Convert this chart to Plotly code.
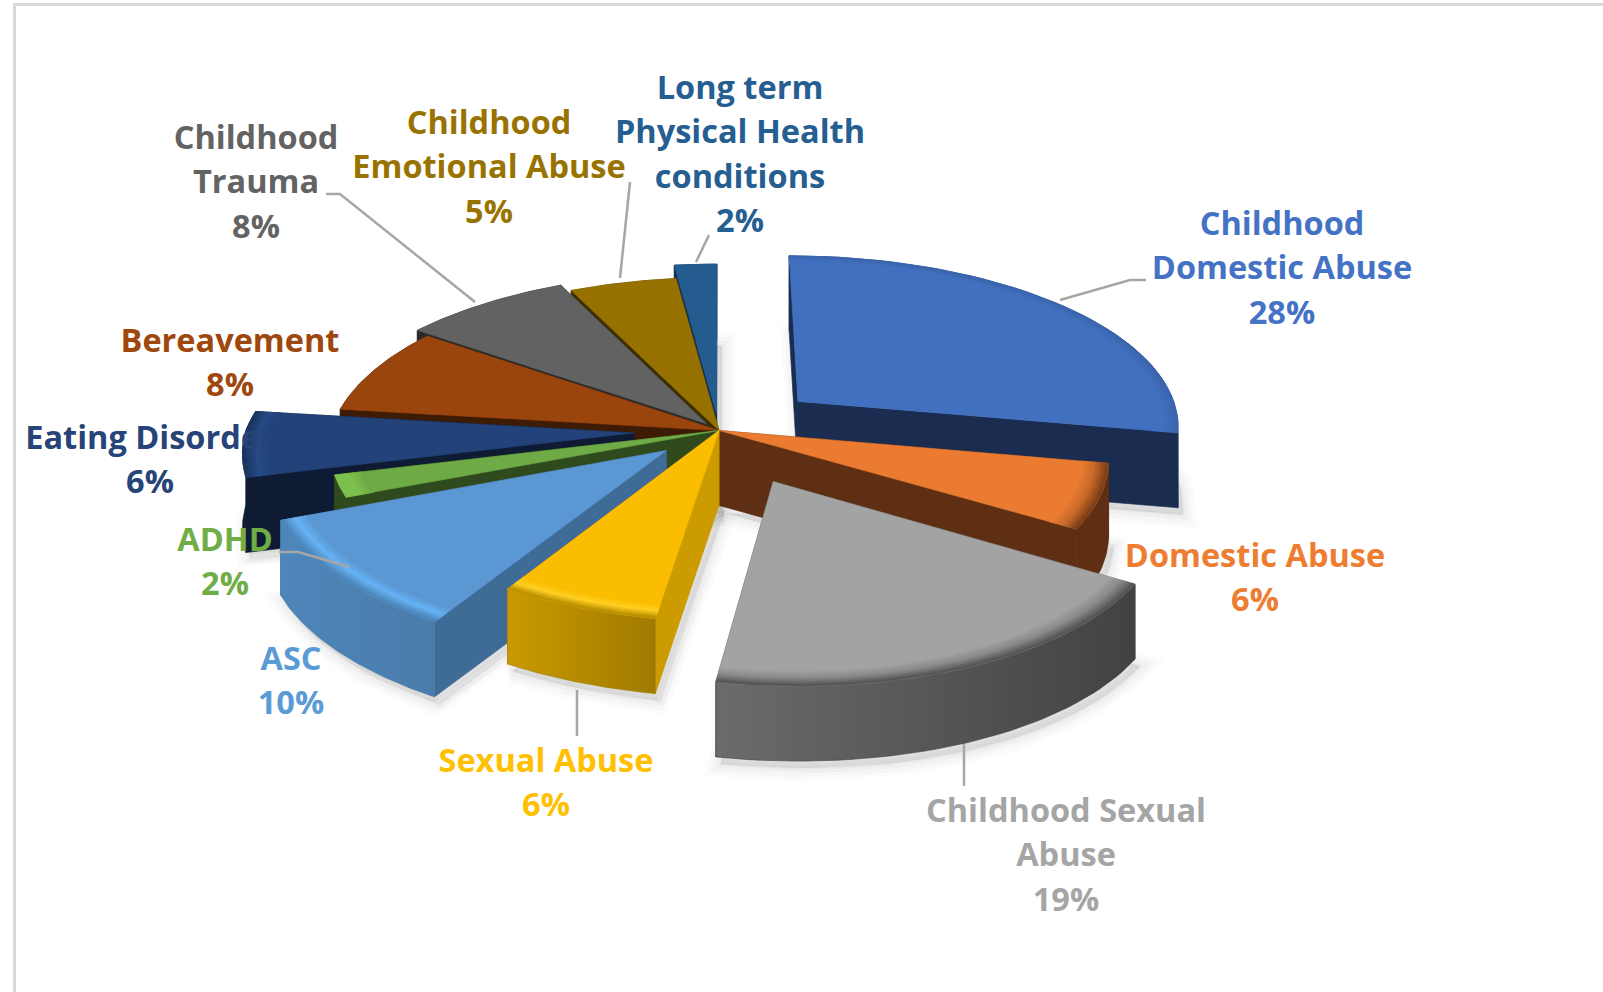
import numpy as np
import plotly.graph_objects as go

# Slices, clockwise from twelve o'clock
categories = ["Childhood Domestic Abuse", "Domestic Abuse", "Childhood Sexual Abuse",
              "Sexual Abuse", "ASC", "ADHD", "Eating Disorder", "Bereavement",
              "Childhood Trauma", "Childhood Emotional Abuse",
              "Long term Physical Health conditions"]
values = [28, 6, 19, 6, 10, 2, 6, 8, 8, 5, 2]
label_lines = [["Childhood", "Domestic Abuse"], ["Domestic Abuse"], ["Childhood Sexual", "Abuse"],
               ["Sexual Abuse"], ["ASC"], ["ADHD"], ["Eating Disorder"], ["Bereavement"],
               ["Childhood", "Trauma"], ["Childhood", "Emotional Abuse"],
               ["Long term", "Physical Health", "conditions"]]

# How far each slice is pulled out of the pie
explode = [0.27, 0, 0.31, 0, 0.18, 0, 0.22, 0, 0.05, 0, 0.10]
radius = [0.99, 0.99, 0.955, 0.97, 1.01, 1, 1, 1, 1, 1, 1]

top_colors = ["#4170BF", "#EA7B31", "#A3A3A3", "#FBBD00", "#5A97D3", "#6EAA45",
              "#234279", "#9A450D", "#626262", "#967100", "#245C90"]
side_colors = ["#1A2C50", "#5E2F13", "#434343", "#CB9B00", "#3F6C96", "#2F4A1C",
               "#0E1B33", "#3E1B05", "#2A2A2A", "#3D2E00", "#12304D"]
# Left and right ends of the gradient along the curved rim
rim_colors = [("#1A2C50", "#1A2C50"), ("#5E2F13", "#5E2F13"), ("#6B6B6B", "#424242"),
              ("#C99A00", "#A07A00"), ("#4D86BA", "#4A7CAA"), ("#2F4A1C", "#2F4A1C"),
              ("#0E1B33", "#0E1B33"), ("#3E1B05", "#3E1B05"), ("#2A2A2A", "#2A2A2A"),
              ("#3D2E00", "#3D2E00"), ("#12304D", "#12304D")]
# Colours of the rounded edge, inside to outside; None leaves the edge flat
bevel_colors = [["#4170BF", "#4170BF", "#3A65AD"], ["#EA7B31", "#C96A2A", "#7E4019"],
                ["#A3A3A3", "#8A8A8A", "#555555"], ["#FBBD00", "#FFD024", "#B98F00"],
                ["#5A97D3", "#66B2F5", "#4D86BA"], ["#6EAA45", "#7CC04E", "#7CC04E"],
                ["#234279", "#264A86", "#1B3560"], None, None, None, None]
text_colors = ["#4472C4", "#ED7D31", "#A5A5A5", "#FFC000", "#5B9BD5", "#70AD47",
               "#264478", "#9E480E", "#636363", "#997300", "#255E91"]

# Where each label block is centred, and its first line's height
label_anchor = [(1282, 227), (1255, 559), (1066, 814), (546, 764), (291, 662), (225, 543),
                (150, 441), (230, 344), (256, 141), (489, 126), (740, 91)]
LINE_STEP = 44.2
FONT = "Open Sans"
FONT_SIZE = 32.5

# Leader lines from a slice to its label
leaders = [[(1060, 300), (1130, 280), (1146, 280)],
           [(475, 302), (340, 194), (326, 194)],
           [(620, 278), (630, 182)],
           [(696, 262), (709, 235)],
           [(350, 567), (298, 552), (279, 552)],
           [(577, 736), (577, 690)],
           [(964, 786), (964, 744)]]

# Tilted-disc projection
CX, CY = 719, 430.5
AX, AY = 388, 173
PERSPECTIVE = 0.13
DEPTH = 75
LEAN = 0.04
BEVEL_WIDTH = 0.07


def project(x, y, drop=0.0):
    w = 1 + PERSPECTIVE * y
    x = x + LEAN * np.maximum(-y, 0)
    return CX + AX * x / w, CY - AY * y / w + drop


def blend(a, b, t):
    ca = [int(a[i:i + 2], 16) for i in (1, 3, 5)]
    cb = [int(b[i:i + 2], 16) for i in (1, 3, 5)]
    return "#%02X%02X%02X" % tuple(round(p + (q - p) * t) for p, q in zip(ca, cb))


def polygon(fig, xs, ys, color, line=None, gradient=None):
    style = dict(mode="lines", fill="toself", hoverinfo="skip", showlegend=False,
                 line=dict(width=0.6, color=line or color))
    if gradient:
        style["fillgradient"] = dict(type="horizontal",
                                     colorscale=[[0, gradient[0]], [1, gradient[1]]])
    else:
        style["fillcolor"] = color
    fig.add_trace(go.Scatter(x=list(xs), y=list(ys), **style))


total = sum(values)
edges = np.cumsum([0] + values) / total * 2 * np.pi
slices = []
for i in range(len(values)):
    start, end = edges[i], edges[i + 1]
    mid = (start + end) / 2
    ox, oy = explode[i] * np.sin(mid), explode[i] * np.cos(mid)
    t = np.linspace(start, end, 48)
    slices.append(dict(i=i, t=t, ox=ox, oy=oy, r=radius[i]))


def arc(s, r, drop=0.0):
    return project(s["ox"] + r * np.sin(s["t"]), s["oy"] + r * np.cos(s["t"]), drop)


fig = go.Figure()

# Soft shadow on the ground under the front slices
for s in slices:
    ax_, ay_ = project(s["ox"], s["oy"], DEPTH)
    bx, by = arc(s, s["r"], DEPTH)
    px = np.r_[ax_, bx, ax_] + 5
    py = np.r_[ay_, by, ay_] + 7
    for width, alpha in ((26, 0.025), (18, 0.03), (10, 0.04), (3, 0.05)):
        fig.add_trace(go.Scatter(x=px, y=py, mode="lines", fill="toself",
                                 fillcolor="rgba(90,90,90,%s)" % alpha, hoverinfo="skip",
                                 showlegend=False,
                                 line=dict(width=width, color="rgba(90,90,90,%s)" % alpha)))

# Slices painted from the back of the pie to the front
paint_order = [10, 9, 8, 7, 0, 6, 5, 1, 4, 3, 2]
for i in paint_order:
    s = slices[i]
    r = s["r"]
    ax_, ay_ = project(s["ox"], s["oy"])
    bx_, by_ = project(s["ox"], s["oy"], DEPTH)
    tx, ty = arc(s, r)
    lx, ly = arc(s, r, DEPTH)

    # Flat cut faces on both sides
    for k in (0, -1):
        polygon(fig, [ax_, tx[k], lx[k], bx_, ax_], [ay_, ty[k], ly[k], by_, ay_], side_colors[i])

    # Curved rim
    polygon(fig, np.r_[tx, lx[::-1], tx[0]], np.r_[ty, ly[::-1], ty[0]], side_colors[i],
            gradient=rim_colors[i], line=rim_colors[i][1])

    # Upper face
    polygon(fig, np.r_[ax_, tx, ax_], np.r_[ay_, ty, ay_], top_colors[i])

    # Rounded edge along the rim
    if bevel_colors[i]:
        stops = bevel_colors[i]
        steps = 9
        for n in range(steps):
            u = n / (steps - 1)
            c = blend(stops[0], stops[1], u * 2) if u < 0.5 else blend(stops[1], stops[2], u * 2 - 1)
            inner = arc(s, r * (1 - BEVEL_WIDTH * (1 - n / steps)))
            outer = arc(s, r * (1 - BEVEL_WIDTH * (1 - (n + 1) / steps)))
            polygon(fig, np.r_[inner[0], outer[0][::-1], inner[0][0]],
                    np.r_[inner[1], outer[1][::-1], inner[1][0]], c)

# Leader lines
for pts in leaders:
    fig.add_trace(go.Scatter(x=[p[0] for p in pts], y=[p[1] for p in pts], mode="lines",
                             hoverinfo="skip", showlegend=False,
                             line=dict(color="#A6A6A6", width=2.5)))

# Category and percentage labels, one text item per line
for i, lines in enumerate(label_lines):
    rows = lines + ["%d%%" % round(values[i] / total * 100)]
    x0, y0 = label_anchor[i]
    fig.add_trace(go.Scatter(x=[x0] * len(rows), y=[y0 + n * LINE_STEP for n in range(len(rows))],
                             mode="text", text=rows, textposition="middle center",
                             hoverinfo="skip", showlegend=False,
                             textfont=dict(family=FONT, size=FONT_SIZE, color=text_colors[i],
                                           weight=700)))

fig.update_layout(
    width=1603, height=992, autosize=False, margin=dict(l=0, r=0, t=0, b=0),
    paper_bgcolor="white", plot_bgcolor="white", showlegend=False,
    xaxis=dict(range=[0, 1603], visible=False, fixedrange=True),
    yaxis=dict(range=[992, 0], visible=False, fixedrange=True),
    # Chart-area outline along the left and top
    shapes=[dict(type="path", path="M 14.5 1000 L 14.5 4.5 L 1610 4.5", xref="x", yref="y",
                 line=dict(color="#D9D9D9", width=3))],
)

fig.write_html("out.html")
